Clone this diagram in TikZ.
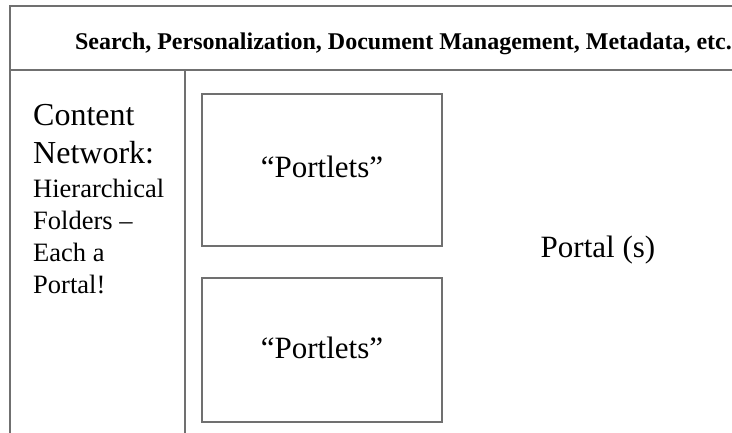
\documentclass[tikz,border=0pt]{standalone}
\usepackage{fontspec}
\setmainfont{Liberation Serif}
\definecolor{frame}{RGB}{112,112,112}
\begin{document}
\begin{tikzpicture}[x=1pt,y=-1pt,
  frameline/.style={draw=frame,line width=1.5pt},
  portletbox/.style={draw=frame,line width=1.2pt,minimum width=240pt,inner sep=0pt},
  bigtext/.style={font=\fontsize{31}{36}\selectfont,inner sep=0pt}]
\useasboundingbox (0,0) rectangle (732,433);
% frame
\draw[frameline] (10,433) -- (10,6) -- (740,6);
\draw[frameline] (10,70) -- (740,70);
\draw[frameline] (185,70) -- (185,440);
% header
\node[anchor=base,inner sep=0pt,font=\fontsize{24}{28}\selectfont\bfseries] (hdr) at (403.5,50) {Search, Personalization, Document Management, Metadata, etc.};
% left column
\node[anchor=base west,inner sep=0pt] (cn) at (33,126) {\fontsize{26.5}{32}\selectfont
  \begin{tabular}[t]{@{}l@{}}
  \fontsize{32}{38}\selectfont Content\\[6pt]
  \fontsize{32}{38}\selectfont Network:\\[2pt]
  Hierarchical\\
  Folders --\\
  Each a\\
  Portal!
  \end{tabular}};
% portlet boxes
\node[portletbox,minimum height=152pt] (p1) at (322,170) {};
\node[portletbox,minimum height=144pt] (p2) at (322,350) {};
\node[bigtext,anchor=base] (t1) at (322,178) {“Portlets”};
\node[bigtext,anchor=base] (t2) at (322,358) {“Portlets”};
% portal
\node[bigtext,anchor=base] (portal) at (598,258) {Portal (s)};
\end{tikzpicture}
\end{document}
